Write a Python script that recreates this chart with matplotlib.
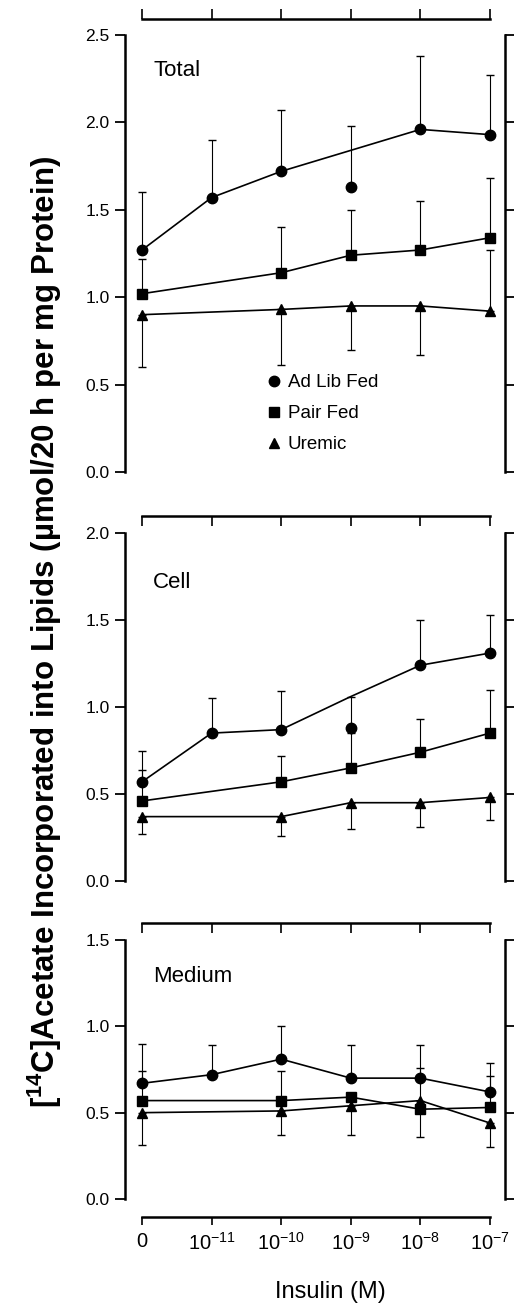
import numpy as np
import matplotlib
matplotlib.use("Agg")
from matplotlib import pyplot as plt
from matplotlib.lines import Line2D

nan = np.nan

conc_labels = ["0", r"$10^{-11}$", r"$10^{-10}$", r"$10^{-9}$", r"$10^{-8}$", r"$10^{-7}$"]
conc_pos = np.arange(6)

#### TOTAL ####
total_adlib_line = [1.27, 1.57, 1.72, 1.84, 1.96, 1.93]
total_adlib = [1.27, 1.57, 1.72, 1.63, 1.96, 1.93]
total_adlib_hi = [1.60, 1.90, 2.07, 1.98, 2.38, 2.27]
total_pair = [1.02, nan, 1.14, 1.24, 1.27, 1.34]
total_pair_hi = [1.22, nan, 1.40, 1.50, 1.55, 1.68]
total_uremic = [0.90, nan, 0.93, 0.95, 0.95, 0.92]
total_uremic_lo = [0.60, nan, 0.61, 0.70, 0.67, nan]
total_uremic_hi = [nan, nan, nan, nan, nan, 1.27]

#### CELL ####
cell_adlib_line = [0.57, 0.85, 0.87, 1.06, 1.24, 1.31]
cell_adlib = [0.57, 0.85, 0.87, 0.88, 1.24, 1.31]
cell_adlib_hi = [0.75, 1.05, 1.09, 1.06, 1.50, 1.53]
cell_pair = [0.46, nan, 0.57, 0.65, 0.74, 0.85]
cell_pair_hi = [0.64, nan, 0.72, 0.85, 0.93, 1.10]
cell_uremic = [0.37, nan, 0.37, 0.45, 0.45, 0.48]
cell_uremic_lo = [0.27, nan, 0.26, 0.30, 0.31, 0.35]

#### MEDIUM ####
med_adlib = [0.67, 0.72, 0.81, 0.70, 0.70, 0.62]
med_adlib_hi = [0.90, 0.89, 1.00, 0.89, 0.89, 0.79]
med_pair = [0.57, nan, 0.57, 0.59, 0.52, 0.53]
med_pair_hi = [0.74, nan, 0.74, nan, nan, 0.71]
med_pair_lo = [nan, nan, nan, nan, 0.36, nan]
med_uremic = [0.50, nan, 0.51, 0.54, 0.57, 0.44]
med_uremic_lo = [0.31, nan, 0.37, 0.37, nan, 0.30]
med_uremic_hi = [nan, nan, nan, nan, 0.76, nan]

plt.rcParams["font.family"] = ["Liberation Sans", "DejaVu Sans"]
plt.rcParams["mathtext.fontset"] = "custom"
plt.rcParams["mathtext.rm"] = "Liberation Sans"
plt.rcParams["mathtext.bf"] = "Liberation Sans:bold"

W, H = 514, 1303
fig = plt.figure(figsize=(W / 100, H / 100), dpi=100)


def panel(top, bottom, ymax):
    ax = fig.add_axes([125 / W, 1 - bottom / H, 380 / W, (bottom - top) / H])
    ax.set_xlim(-0.244, 5.216)
    ax.set_ylim(0, ymax)
    ticks = np.arange(0, ymax + 0.01, 0.5)
    ax.set_yticks(ticks)
    ax.set_yticklabels(["%.1f" % v for v in ticks], fontsize=12.5)
    ax.yaxis.set_ticks_position("both")
    ax.tick_params(axis="y", direction="out", length=7, width=1.3, pad=4)
    for s in ["left", "right"]:
        ax.spines[s].set_linewidth(1.8)
    ax.spines["top"].set_visible(False)
    ax.spines["bottom"].set_visible(False)
    ax.tick_params(axis="x", bottom=False, labelbottom=False)
    return ax


def top_bar(ax, gap, height, direction):
    sec = ax.secondary_xaxis(1 + gap / height)
    sec.set_xticks(conc_pos)
    sec.tick_params(direction=direction, length=7, width=1.2, labeltop=False)
    sec.spines["top"].set_linewidth(1.8)
    sec.spines["top"].set_bounds(0, 5)


def errs(vals, lo=None, hi=None):
    v = np.array(vals, dtype=float)
    down = np.zeros(6) if lo is None else np.nan_to_num(v - np.array(lo, dtype=float))
    up = np.zeros(6) if hi is None else np.nan_to_num(np.array(hi, dtype=float) - v)
    return [down, up]


def series(ax, vals, marker, ms, lo=None, hi=None, line=None):
    v = np.array(vals, dtype=float)
    ln = v if line is None else np.array(line, dtype=float)
    ok = ~np.isnan(ln)
    ax.plot(conc_pos[ok], ln[ok], color="black", lw=1.2, zorder=3)
    ok2 = ~np.isnan(v)
    e = errs(vals, lo, hi)
    ax.errorbar(conc_pos[ok2], v[ok2], yerr=[e[0][ok2], e[1][ok2]], fmt="none",
                ecolor="black", elinewidth=0.8, capsize=3.2, capthick=1.0, zorder=2)
    ax.plot(conc_pos[ok2], v[ok2], ls="none", marker=marker, ms=ms, color="black", zorder=4)


# Total
ax1 = panel(35, 472, 2.5)
top_bar(ax1, 16, 437, "out")
series(ax1, total_adlib, "o", 7.5, hi=total_adlib_hi, line=total_adlib_line)
series(ax1, total_pair, "s", 6.5, hi=total_pair_hi)
series(ax1, total_uremic, "^", 7, lo=total_uremic_lo, hi=total_uremic_hi)
ax1.text(153 / W, 1 - 71 / H, "Total", transform=fig.transFigure, fontsize=16, va="center")

handles = [Line2D([], [], ls="none", marker="o", ms=7.5, color="black"),
           Line2D([], [], ls="none", marker="s", ms=6.5, color="black"),
           Line2D([], [], ls="none", marker="^", ms=7, color="black")]
ax1.legend(handles, ["Ad Lib Fed", "Pair Fed", "Uremic"], loc="upper left",
           bbox_to_anchor=(266 / W, 1 - 374 / H), bbox_transform=fig.transFigure,
           frameon=False, fontsize=13.5, handlelength=0.8, handletextpad=0.35,
           labelspacing=0.75, borderpad=0, borderaxespad=0)

# Cell
ax2 = panel(533, 881, 2.0)
top_bar(ax2, 17, 348, "in")
series(ax2, cell_adlib, "o", 7.5, hi=cell_adlib_hi, line=cell_adlib_line)
series(ax2, cell_pair, "s", 6.5, hi=cell_pair_hi)
series(ax2, cell_uremic, "^", 7, lo=cell_uremic_lo)
ax2.text(153 / W, 1 - 582 / H, "Cell", transform=fig.transFigure, fontsize=16, va="center")

# Medium
ax3 = panel(940, 1199, 1.5)
top_bar(ax3, 17, 259, "in")
series(ax3, med_adlib, "o", 7.5, hi=med_adlib_hi)
series(ax3, med_pair, "s", 6.5, lo=med_pair_lo, hi=med_pair_hi)
series(ax3, med_uremic, "^", 7, lo=med_uremic_lo, hi=med_uremic_hi)
ax3.text(153 / W, 1 - 977 / H, "Medium", transform=fig.transFigure, fontsize=16, va="center")

ax3.spines["bottom"].set_visible(True)
ax3.spines["bottom"].set_linewidth(1.8)
ax3.spines["bottom"].set_position(("outward", 13))
ax3.spines["bottom"].set_bounds(0, 5)
ax3.set_xticks(conc_pos)
ax3.set_xticklabels(conc_labels, fontsize=14.5)
ax3.tick_params(axis="x", bottom=True, labelbottom=True, direction="out", length=6, width=1.2, pad=5)

fig.text(330 / W, 1 - 1292 / H, "Insulin (M)", ha="center", va="center", fontsize=17)
fig.text(45 / W, 1 - 632 / H,
         r"[$^{\mathbf{14}}$C]Acetate Incorporated into Lipids (µmol/20 h per mg Protein)",
         rotation=90, ha="center", va="center", fontsize=22.5, fontweight="bold")

fig.savefig("out.png", dpi=100)
